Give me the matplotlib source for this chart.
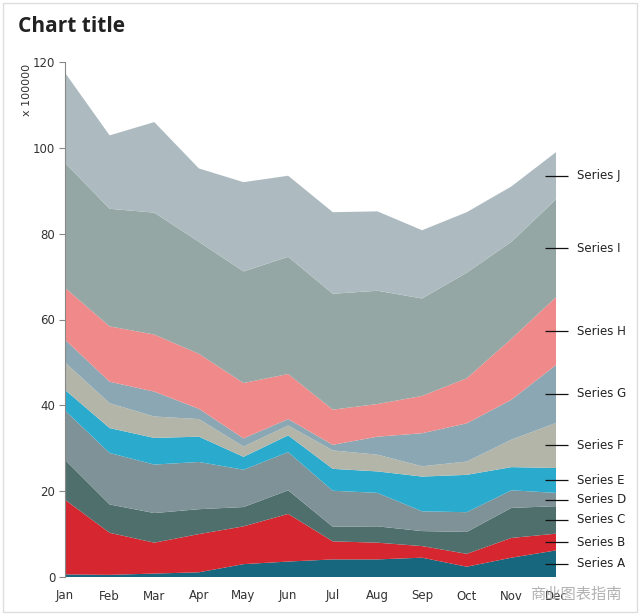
import matplotlib
matplotlib.use("Agg")
import matplotlib.pyplot as plt
import numpy as np
from matplotlib.patches import Rectangle

months = ["Jan", "Feb", "Mar", "Apr", "May", "Jun", "Jul", "Aug", "Sep", "Oct", "Nov", "Dec"]
series_names = ["Series A", "Series B", "Series C", "Series D", "Series E",
                "Series F", "Series G", "Series H", "Series I", "Series J"]

series_a = [0.6, 0.5, 0.8, 1.1, 3.0, 3.6, 4.1, 4.1, 4.5, 2.4, 4.5, 6.2]
series_b = [17.4, 9.8, 7.2, 8.9, 8.8, 11.1, 4.2, 3.9, 2.7, 3.0, 4.6, 3.9]
series_c = [9.3, 6.6, 6.9, 5.8, 4.5, 5.5, 3.4, 3.8, 3.5, 5.1, 7.0, 6.4]
series_d = [11.5, 12.0, 11.3, 11.0, 8.7, 8.9, 8.4, 7.8, 4.6, 4.6, 4.1, 3.1]
series_e = [4.8, 5.8, 6.2, 5.9, 3.0, 3.9, 5.1, 5.0, 8.1, 8.7, 5.4, 5.8]
series_f = [6.4, 5.8, 5.0, 4.1, 2.4, 2.3, 4.3, 3.9, 2.4, 3.1, 6.4, 10.5]
series_g = [5.3, 5.0, 5.8, 2.4, 1.9, 1.5, 1.3, 4.2, 7.7, 8.9, 9.3, 13.5]
series_h = [12.1, 12.9, 13.3, 12.8, 12.9, 10.5, 8.2, 7.6, 8.7, 10.5, 14.2, 15.8]
series_i = [29.1, 27.4, 28.4, 26.1, 26.0, 27.3, 27.0, 26.4, 22.7, 24.6, 22.6, 22.8]
series_j = [21.0, 17.1, 21.1, 17.1, 20.8, 18.9, 19.0, 18.5, 15.9, 14.1, 12.9, 11.0]

colors = ["#17687e", "#d6262f", "#4f6f6d", "#7f9297", "#2aaacd",
          "#b4b5a9", "#8ba7b3", "#f08989", "#95a7a5", "#adbbc1"]

data = np.array([series_a, series_b, series_c, series_d, series_e,
                 series_f, series_g, series_h, series_i, series_j])
x = np.arange(len(months))

fig = plt.figure(figsize=(6.4, 6.16), dpi=100)
fig.patch.set_facecolor("white")
fig.patches.append(Rectangle((3 / 640, 1 - 612 / 616), 634 / 640, 609 / 616,
                             transform=fig.transFigure, fill=False,
                             edgecolor="#dddddd", linewidth=1.0))

ax = fig.add_axes([65 / 640, 39 / 616, 491 / 640, 515 / 616])
ax.stackplot(x, data, colors=colors, linewidth=0)

ax.set_xlim(0, 11)
ax.set_ylim(0, 120)
ax.set_yticks([0, 20, 40, 60, 80, 100, 120])
ax.set_xticks(x)
ax.set_xticklabels(months)
for s in ["top", "right", "bottom"]:
    ax.spines[s].set_visible(False)
ax.spines["left"].set_color("#888888")
ax.spines["left"].set_linewidth(0.8)
ax.tick_params(axis="y", length=4, width=0.8, color="#888888", labelsize=8.5,
               labelcolor="#333333", pad=3)
ax.tick_params(axis="x", length=0, labelsize=8.5, labelcolor="#333333", pad=9)
for lab in ax.get_xticklabels() + ax.get_yticklabels():
    lab.set_fontfamily(["Liberation Sans Narrow", "DejaVu Sans"])

# y label
fig.text(27 / 640, 1 - 90 / 616, "x 100000", rotation=90, ha="center", va="center",
         fontsize=8, color="#333333")

# title
fig.text(18 / 640, 1 - 27 / 616, "Chart title", ha="left", va="center",
         fontsize=15, fontweight="bold", color="#222222",
         family=["Open Sans", "DejaVu Sans"])

# right-side series labels
tops = np.cumsum(data, axis=0)
bottoms = tops - data
last = len(months) - 1
for k, name in enumerate(series_names):
    mid = (tops[k, last] + bottoms[k, last]) / 2
    ax.plot([last - 0.25, last + 0.27], [mid, mid], color="#111111", lw=0.9,
            clip_on=False, solid_capstyle="butt")
    ax.text(last + 0.47, mid, name, ha="left", va="center", fontsize=8.5,
            color="#222222", family=["Liberation Sans Narrow", "DejaVu Sans"])

# watermark
fig.text(530 / 640, 1 - 594 / 616, "商业图表指南", ha="left", va="center",
         fontsize=11, color="#aaaaaa", alpha=0.9,
         family=["Noto Sans CJK SC", "DejaVu Sans"])

fig.savefig("out.png", dpi=100, facecolor="white")
